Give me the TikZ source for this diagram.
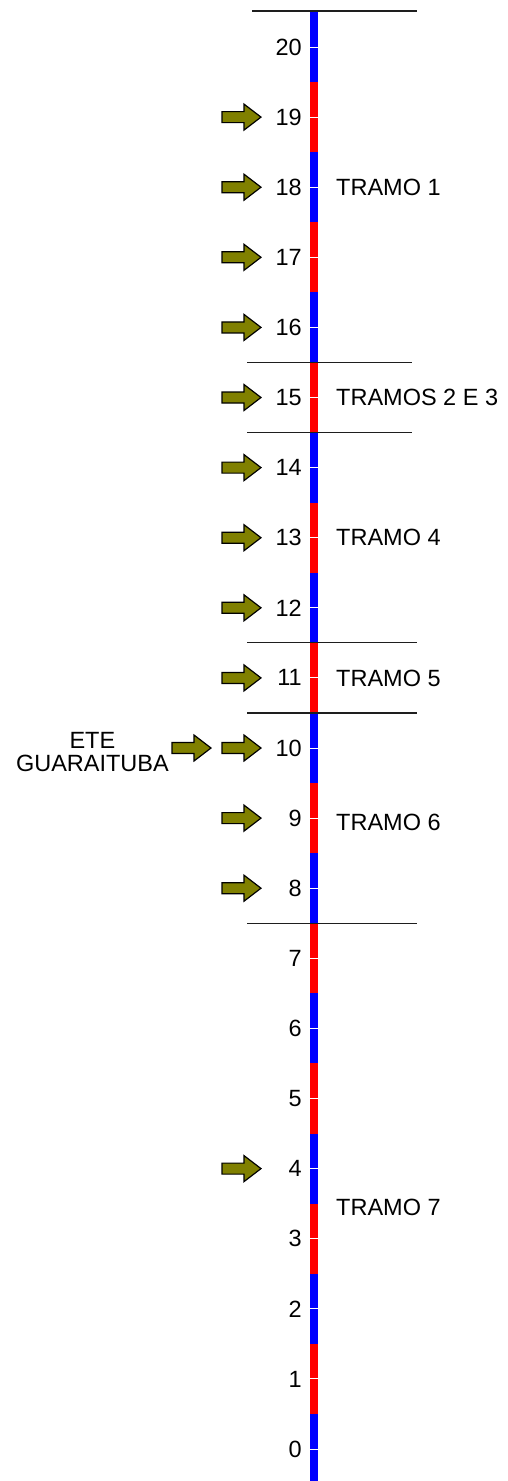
\documentclass[tikz,border=0pt]{standalone}
\usepackage{fontspec}
\setmainfont{Liberation Sans}
\definecolor{arrowfill}{RGB}{128,128,0}
\definecolor{barblue}{RGB}{0,0,255}
\definecolor{barred}{RGB}{255,0,0}
\definecolor{divgray}{RGB}{30,30,30}
\newcommand{\blockarrow}[2]{%
  \filldraw[arrowstyle] (#1,#2-5.5) -- ++(22,0) -- ++(0,-7.5) -- ++(17,13) -- ++(-17,13) -- ++(0,-7.5) -- ++(-22,0) -- cycle;}
\begin{document}
\begin{tikzpicture}[x=1pt,y=-1pt,
  txt/.style={inner sep=0pt, font=\fontsize{23.5}{23}\selectfont},
  num/.style={txt, anchor=east},
  lbl/.style={txt, anchor=west},
  divline/.style={draw=divgray, line width=1.3pt},
  arrowstyle/.style={fill=arrowfill, draw=black, line width=1.2pt, line join=miter}]
\useasboundingbox (0,0) rectangle (508,1481);
\fill[white] (0,0) rectangle (508,1481);
% bar segments
\foreach \n in {0,...,20} {
  \pgfmathsetmacro{\yc}{47+(20-\n)*70.1}
  \pgfmathsetmacro{\ytop}{max(11,\yc-35.05)}
  \pgfmathsetmacro{\ybot}{min(1481,\yc+35.05)}
  \ifodd\n\def\segcol{barred}\else\def\segcol{barblue}\fi
  \fill[\segcol] (310.3,\ytop) rectangle (317.7,\ybot);
  \draw[white, line width=1pt] (310.3,\yc) -- (317.7,\yc);
  \node[num] (n\n) at (302,\yc) {\n};
}
% dividers
\draw[divline] (252,11) -- (417,11);
\draw[divline] (247,362.4) -- (412,362.4);
\draw[divline] (247,432.5) -- (412,432.5);
\draw[divline] (247,642.8) -- (417,642.8);
\draw[divline] (247,712.9) -- (417,712.9);
\draw[divline] (247,923.2) -- (417,923.2);
% labels
\node[lbl] (t1) at (336,187.2) {TRAMO 1};
\node[lbl] (t23) at (336,397.5) {TRAMOS 2 E 3};
\node[lbl] (t4) at (336,537.7) {TRAMO 4};
\node[lbl] (t5) at (336,678.6) {TRAMO 5};
\node[lbl] (t6) at (336,822) {TRAMO 6};
\node[lbl] (t7) at (336,1207) {TRAMO 7};
\node[txt, anchor=east, align=center] (ete) at (169,752) {ETE\\GUARAITUBA};
% arrows
\foreach \n in {19,18,17,16,15,14,13,12,11,10,9,8,4} {
  \pgfmathsetmacro{\yc}{47+(20-\n)*70.1}
  \blockarrow{222}{\yc}
}
\blockarrow{172}{748}
\end{tikzpicture}
\end{document}
